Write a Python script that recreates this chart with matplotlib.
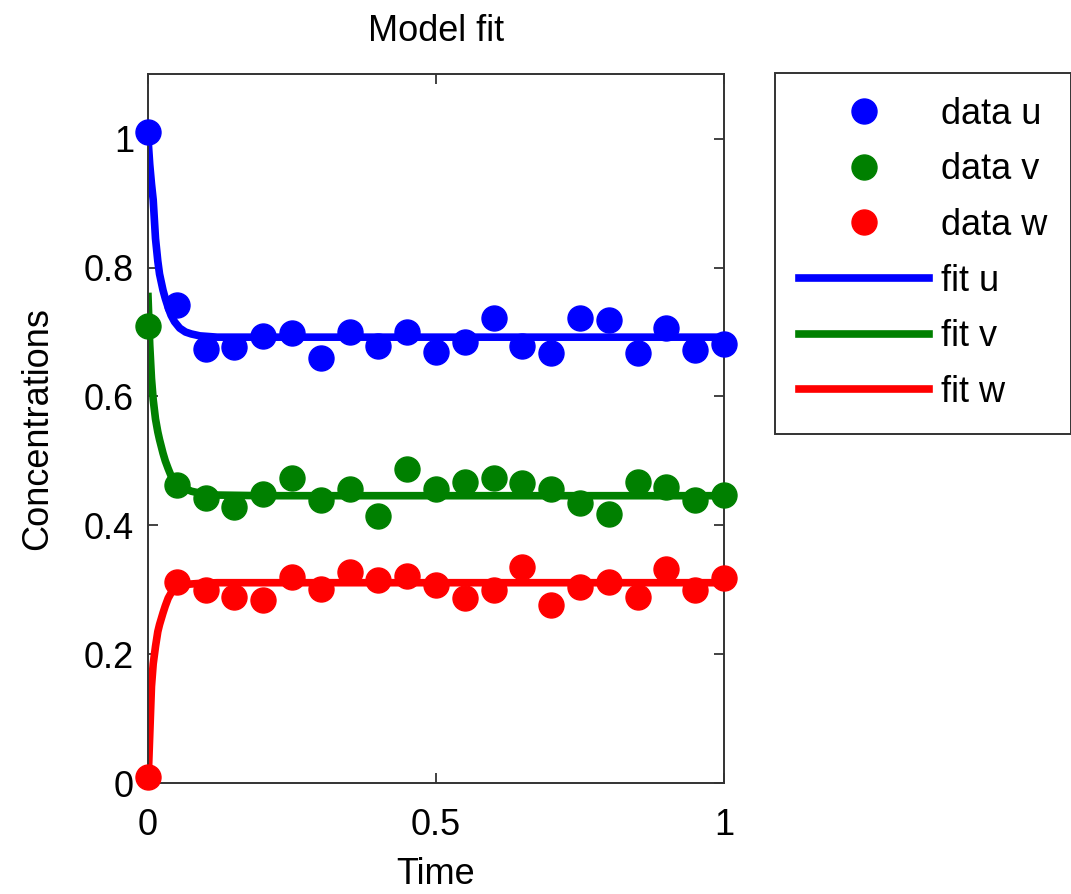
import matplotlib
matplotlib.use("Agg")
import matplotlib.pyplot as plt
import numpy as np

plt.rcParams['font.family'] = ['Liberation Sans', 'DejaVu Sans']

# measured data (every 0.05 time units)
t_data = [0.0, 0.05, 0.1, 0.15, 0.2, 0.25, 0.3, 0.35, 0.4, 0.45, 0.5,
          0.55, 0.6, 0.65, 0.7, 0.75, 0.8, 0.85, 0.9, 0.95, 1.0]
u_data = [1.011, 0.742, 0.673, 0.677, 0.694, 0.699, 0.660, 0.700, 0.679, 0.700, 0.669,
          0.684, 0.721, 0.678, 0.667, 0.721, 0.718, 0.668, 0.706, 0.672, 0.682]
v_data = [0.710, 0.462, 0.443, 0.428, 0.448, 0.473, 0.439, 0.456, 0.415, 0.488, 0.456,
          0.467, 0.473, 0.465, 0.457, 0.434, 0.418, 0.467, 0.459, 0.439, 0.447]
w_data = [0.009, 0.312, 0.299, 0.289, 0.284, 0.320, 0.302, 0.327, 0.315, 0.322, 0.307,
          0.287, 0.299, 0.335, 0.276, 0.304, 0.312, 0.289, 0.333, 0.299, 0.318]

t_fit = [0.0, 0.003, 0.006, 0.009, 0.013, 0.017, 0.02, 0.026, 0.03, 0.035,
         0.04, 0.046, 0.055, 0.065, 0.075, 0.09, 0.12, 0.2, 1.0]
u_fit = [1.0, 0.96, 0.93, 0.905, 0.845, 0.81, 0.79, 0.765, 0.752, 0.738,
         0.726, 0.716, 0.706, 0.700, 0.697, 0.694, 0.692, 0.692, 0.692]
v_fit = [0.755, 0.68, 0.628, 0.595, 0.565, 0.545, 0.533, 0.512, 0.500, 0.488,
         0.477, 0.469, 0.462, 0.457, 0.453, 0.450, 0.447, 0.446, 0.446]
w_fit = [0.0, 0.075, 0.150, 0.185, 0.212, 0.235, 0.246, 0.264, 0.275, 0.287,
         0.295, 0.302, 0.306, 0.308, 0.309, 0.310, 0.311, 0.311, 0.311]

fig = plt.figure(figsize=(10.71, 8.94), dpi=100)
ax = fig.add_axes([0.1382, 0.124, 0.5378, 0.793])

fs = 26
ms = 18
lw = 5.5

ax.plot(t_data, u_data, 'o', color='blue', ms=ms, label='data u', clip_on=False, zorder=3)
ax.plot(t_data, v_data, 'o', color='green', ms=ms, label='data v', clip_on=False, zorder=3)
ax.plot(t_data, w_data, 'o', color='red', ms=ms, label='data w', clip_on=False, zorder=3)
ax.plot(t_fit, u_fit, '-', color='blue', lw=lw, label='fit u', zorder=2)
ax.plot(t_fit, v_fit, '-', color='green', lw=lw, label='fit v', zorder=2)
ax.plot(t_fit, w_fit, '-', color='red', lw=lw, label='fit w', zorder=2)

ax.set_xlim(0, 1)
ax.set_ylim(0, 1.1)
ax.set_xticks([0, 0.5, 1])
ax.set_xticklabels(['0', '0.5', '1'])
ax.set_yticks([0, 0.2, 0.4, 0.6, 0.8, 1.0])
ax.set_yticklabels(['0', '0.2', '0.4', '0.6', '0.8', '1'])
ax.tick_params(direction='in', length=7, width=1.2, top=True, right=True,
               labelsize=fs, pad=10, colors='#222222', labelcolor='black')
ax.tick_params(axis='x', pad=18)
for s in ax.spines.values():
    s.set_linewidth(1.4)
    s.set_color('#333333')

ax.set_title('Model fit', fontsize=fs, pad=24)
ax.set_xlabel('Time', fontsize=fs, labelpad=10)
ax.set_ylabel('Concentrations', fontsize=fs, labelpad=21)

leg = fig.legend(loc='upper left', bbox_to_anchor=(775 / 1071, 1 - 73 / 894),
                 fontsize=fs, handlelength=3.6, handletextpad=0.33,
                 labelspacing=0.57, borderpad=0.66, borderaxespad=0,
                 fancybox=False, framealpha=1, edgecolor='#333333')
leg.get_frame().set_linewidth(1.4)

fig.savefig('out.png', dpi=100)
